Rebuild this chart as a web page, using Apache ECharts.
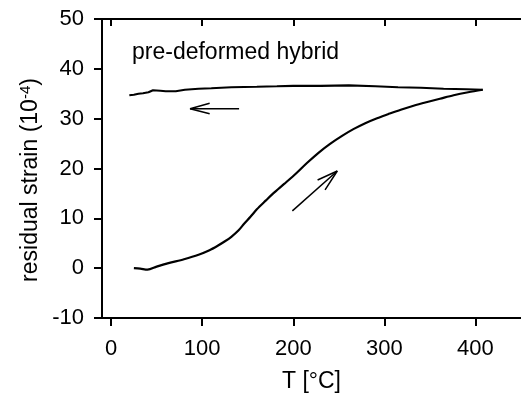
<!DOCTYPE html>
<html>
<head>
<meta charset="utf-8">
<script src="https://cdn.jsdelivr.net/npm/echarts@6/dist/echarts.min.js"></script>
<style>html,body{margin:0;padding:0;background:#fff;}#c{width:521px;height:401px;}</style>
</head>
<body>
<div id="c"></div>
<script>
// Heating curve (lower)
var heatT = [25, 32, 40, 50, 63, 80, 96, 108, 117, 125, 132, 140, 146, 153, 160, 170, 178, 190, 203, 215, 228, 240, 254, 266, 279, 292, 304, 318, 332, 346, 361, 376, 392, 408];
var heatS = [0.0, -0.1, -0.3, 0.3, 1.0, 1.8, 2.7, 3.6, 4.5, 5.4, 6.3, 7.6, 8.9, 10.3, 11.8, 13.6, 15.0, 16.9, 19.0, 21.1, 23.2, 24.9, 26.6, 27.9, 29.1, 30.1, 30.9, 31.8, 32.6, 33.3, 34.0, 34.7, 35.3, 35.8];
// Cooling curve (upper)
var coolT = [408, 390, 365, 340, 315, 290, 261, 230, 200, 182, 160, 132, 110, 96, 81, 71, 60, 54, 46, 41, 35, 30, 25, 20];
var coolS = [35.8, 35.9, 36.0, 36.2, 36.3, 36.5, 36.7, 36.6, 36.6, 36.5, 36.4, 36.3, 36.1, 36.0, 35.8, 35.5, 35.5, 35.6, 35.7, 35.3, 35.1, 35.0, 34.8, 34.7];
// Arrow annotations (data units)
var arrowCoolShaft = [[140.5, 32.0], [86.7, 32.0]];
var arrowCoolHead = [[108.2, 33.1], [86.7, 32.0], [108.2, 31.0]];
var arrowHeatShaft = [[199, 11.5], [248.3, 19.5]];
var arrowHeatHead = [[226.7, 17.7], [248.3, 19.5], [234.9, 15.7]];
var xTicks = [0, 100, 200, 300, 400];
var xMin = -10, xMax = 450;
var yMin = -10, yMax = 50, yStep = 10;
var annotation = 'pre-deformed hybrid';
var xTitle = 'T [°C]';

function zip(a, b) { return a.map(function (v, i) { return [v, b[i]]; }); }
var FONT = '"Liberation Sans", Arial, sans-serif';

var chart = echarts.init(document.getElementById('c'), null, { renderer: 'canvas' });
var lineBase = { type: 'line', xAxisIndex: 0, yAxisIndex: 0, showSymbol: false, symbol: 'none', smooth: false, animation: false, silent: true };
chart.setOption({
  backgroundColor: '#fff',
  animation: false,
  grid: { left: 102, right: -8, top: 19, bottom: 83, containLabel: false },
  xAxis: [{
    type: 'value', min: xMin, max: xMax, position: 'bottom',
    name: xTitle, nameLocation: 'middle', nameGap: 52,
    nameTextStyle: { fontFamily: FONT, fontSize: 23, color: '#000' },
    axisLine: { show: true, onZero: false, lineStyle: { color: '#000', width: 2 } },
    axisTick: { show: true, customValues: xTicks, length: 8, inside: false, lineStyle: { color: '#000', width: 2 } },
    axisLabel: { show: true, customValues: xTicks, margin: 20, fontFamily: FONT, fontSize: 22, color: '#000' },
    splitLine: { show: false }
  }, {
    type: 'value', min: xMin, max: xMax, position: 'top',
    axisLine: { show: true, onZero: false, lineStyle: { color: '#000', width: 2 } },
    axisTick: { show: true, customValues: xTicks, length: 7, inside: true, lineStyle: { color: '#000', width: 2 } },
    axisLabel: { show: false },
    splitLine: { show: false }
  }],
  yAxis: [{
    type: 'value', min: yMin, max: yMax, interval: yStep, position: 'left',
    axisLine: { show: true, onZero: false, lineStyle: { color: '#000', width: 2 } },
    axisTick: { show: true, length: 8, inside: false, lineStyle: { color: '#000', width: 2 } },
    axisLabel: { margin: 18, fontFamily: FONT, fontSize: 22, color: '#000' },
    splitLine: { show: false }
  }],
  graphic: [{
    type: 'text', left: 132, top: 41, silent: true,
    style: { text: annotation, font: '23px ' + FONT, fill: '#000' }
  }, {
    type: 'text', x: 31, y: 180, rotation: Math.PI / 2, silent: true,
    style: {
      text: 'residual strain (10{sup|-4})', fill: '#000', font: '23px ' + FONT,
      align: 'center', verticalAlign: 'middle',
      rich: { sup: { fontSize: 15, fontFamily: FONT, verticalAlign: 'top', padding: [0, 0, 10, 0], fill: '#000' } }
    }
  }],
  series: [
    Object.assign({}, lineBase, { data: zip(heatT, heatS), smooth: 0.3, lineStyle: { color: '#000', width: 2.2 } }),
    Object.assign({}, lineBase, { data: zip(coolT, coolS), lineStyle: { color: '#000', width: 2.2 } }),
    Object.assign({}, lineBase, { data: arrowCoolShaft, lineStyle: { color: '#000', width: 1.5 } }),
    Object.assign({}, lineBase, { data: arrowCoolHead, lineStyle: { color: '#000', width: 1.5 } }),
    Object.assign({}, lineBase, { data: arrowHeatShaft, lineStyle: { color: '#000', width: 1.5 } }),
    Object.assign({}, lineBase, { data: arrowHeatHead, lineStyle: { color: '#000', width: 1.5 } })
  ]
});
</script>
</body>
</html>
